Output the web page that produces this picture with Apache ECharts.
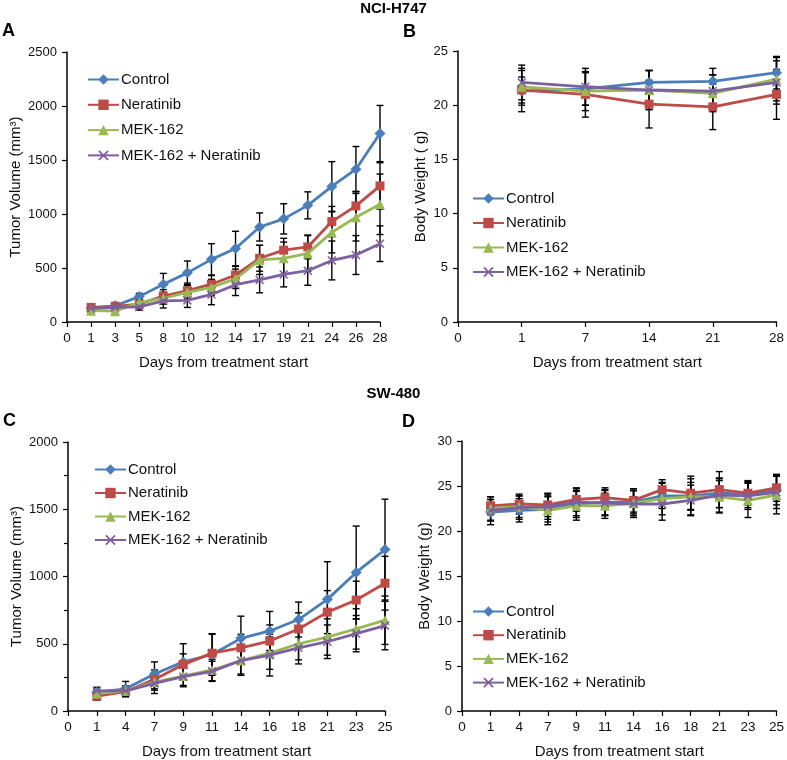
<!DOCTYPE html>
<html>
<head>
<meta charset="utf-8">
<script src="https://cdn.jsdelivr.net/npm/echarts@6/dist/echarts.min.js"></script>
<style>html,body{margin:0;padding:0;background:#fff}#c{width:787px;height:760px}</style>
</head>
<body>
<div id="c"></div>
<script>
// ---- Data ----
const seriesNames = ['Control', 'Neratinib', 'MEK-162', 'MEK-162 + Neratinib'];

// Panel A: NCI-H747 tumor volume
const daysA = ['0', '1', '3', '5', '8', '10', '12', '14', '17', '19', '21', '24', '26', '28'];
const ctrlA = [130, 150, 235, 350, 455, 580, 680, 880, 955, 1080, 1255, 1415, 1745];
const ctrlAErr = [25, 30, 30, 100, 110, 145, 160, 130, 140, 125, 230, 210, 260];
const nerA = [135, 145, 165, 240, 290, 350, 435, 590, 665, 695, 930, 1075, 1260];
const nerAErr = [20, 25, 40, 60, 70, 80, 80, 120, 110, 110, 140, 135, 215];
const mekA = [105, 100, 180, 220, 275, 320, 400, 575, 590, 635, 830, 970, 1090];
const mekAErr = [15, 20, 35, 55, 65, 75, 90, 135, 150, 165, 190, 220, 280];
const comboA = [125, 135, 140, 195, 200, 255, 345, 390, 440, 475, 570, 620, 725];
const comboAErr = [20, 25, 30, 65, 65, 95, 100, 120, 115, 135, 180, 180, 165];

// Panel B: NCI-H747 body weight
const daysB = ['0', '1', '7', '14', '21', '28'];
const ctrlB = [21.3, 21.5, 22.1, 22.2, 23.0];
const ctrlBErr = [1.3, 1.5, 1.1, 1.2, 1.5];
const nerB = [21.4, 21.0, 20.1, 19.85, 21.0];
const nerBErr = [2.0, 2.1, 2.2, 2.1, 2.3];
const mekB = [21.7, 21.3, 21.4, 21.1, 22.4];
const mekBErr = [1.5, 1.8, 1.8, 1.7, 2.0];
const comboB = [22.1, 21.7, 21.4, 21.3, 22.1];
const comboBErr = [1.6, 1.7, 1.8, 1.5, 2.0];

// Panel C: SW-480 tumor volume
const daysC = ['0', '1', '4', '7', '9', '11', '14', '16', '18', '21', '23', '25'];
const ctrlC = [140, 165, 275, 365, 420, 540, 595, 680, 830, 1030, 1200];
const ctrlCErr = [35, 55, 90, 135, 155, 165, 145, 130, 280, 345, 375];
const nerC = [110, 145, 235, 345, 430, 470, 520, 610, 735, 825, 950];
const nerCErr = [30, 40, 70, 80, 140, 100, 120, 120, 160, 140, 200];
const mekC = [130, 150, 215, 260, 305, 375, 430, 500, 550, 610, 675];
const mekCErr = [30, 35, 60, 70, 80, 100, 120, 120, 135, 150, 180];
const comboC = [150, 150, 205, 255, 295, 375, 415, 470, 515, 575, 635];
const comboCErr = [25, 30, 75, 75, 75, 110, 155, 120, 125, 135, 180];

// Panel D: SW-480 body weight
const daysD = ['0', '1', '4', '7', '9', '11', '14', '16', '18', '21', '23', '25'];
const ctrlD = [22.1, 22.3, 22.4, 23.0, 23.2, 23.2, 23.9, 23.9, 24.2, 24.1, 24.5];
const ctrlDErr = [1.4, 1.3, 1.4, 1.5, 1.4, 1.3, 1.4, 1.5, 1.6, 1.5, 1.6];
const nerD = [22.8, 23.0, 22.9, 23.5, 23.7, 23.4, 24.6, 24.2, 24.6, 24.2, 24.8];
const nerDErr = [1.0, 1.1, 1.3, 1.3, 1.1, 1.3, 1.1, 1.9, 2.0, 1.3, 1.5];
const mekD = [22.5, 22.7, 22.3, 22.8, 22.8, 23.1, 23.6, 23.8, 23.8, 23.4, 24.0];
const mekDErr = [1.3, 1.2, 1.6, 1.6, 1.4, 1.4, 1.8, 2.0, 1.8, 1.9, 2.1];
const comboD = [22.3, 22.6, 22.7, 23.2, 23.1, 23.0, 23.0, 23.4, 24.0, 23.9, 24.3];
const comboDErr = [1.2, 1.3, 1.4, 1.5, 1.4, 1.5, 1.8, 1.7, 1.9, 1.5, 1.8];

// ---- Styles ----
const FONT = 'Liberation Sans, Arial, sans-serif';
const colors = ['#4A7EBB', '#BE4B48', '#98B954', '#7D60A0'];
const xPath = 'path://M0,1.2L1.2,0L5,3.8L8.8,0L10,1.2L6.2,5L10,8.8L8.8,10L5,6.2L1.2,10L0,8.8L3.8,5Z';
const symbols = ['diamond', 'rect', 'triangle', xPath];
const symSizes = [11, 9, 10, 9];

const panels = [
  { days: daysA, vals: [ctrlA, nerA, mekA, comboA], errs: [ctrlAErr, nerAErr, mekAErr, comboAErr],
    grid: { left: 67, top: 52, width: 313, height: 270 }, yMax: 2500, yInt: 500, minor: false,
    yName: 'Tumor Volume (mm³)', legend: { left: 82, top: 67, gap: 10.3 } },
  { days: daysB, vals: [ctrlB, nerB, mekB, comboB], errs: [ctrlBErr, nerBErr, mekBErr, comboBErr],
    grid: { left: 458, top: 51, width: 320, height: 271 }, yMax: 25, yInt: 5, minor: false,
    yName: 'Body Weight ( g)', legend: { left: 467, top: 186, gap: 9.5 } },
  { days: daysC, vals: [ctrlC, nerC, mekC, comboC], errs: [ctrlCErr, nerCErr, mekCErr, comboCErr],
    grid: { left: 68, top: 442, width: 317, height: 269 }, yMax: 2000, yInt: 500, minor: true,
    yName: 'Tumor Volume (mm³)', legend: { left: 89, top: 457, gap: 8.5 } },
  { days: daysD, vals: [ctrlD, nerD, mekD, comboD], errs: [ctrlDErr, nerDErr, mekDErr, comboDErr],
    grid: { left: 462, top: 441, width: 317, height: 270 }, yMax: 30, yInt: 5, minor: false,
    yName: 'Body Weight (g)', legend: { left: 467, top: 599, gap: 8.7 } }
];

const grids = [], xAxes = [], yAxes = [], series = [], legends = [];
panels.forEach((p, pi) => {
  grids.push(p.grid);
  xAxes.push({
    type: 'category', gridIndex: pi, data: p.days, boundaryGap: false,
    name: 'Days from treatment start', nameLocation: 'middle', nameGap: 33,
    nameTextStyle: { fontFamily: FONT, fontSize: 15, color: '#111' },
    axisLine: { lineStyle: { color: '#000', width: 1.5 } },
    axisTick: { show: true, length: 5, lineStyle: { color: '#000', width: 1.2 } },
    axisLabel: { fontFamily: FONT, fontSize: 13.5, color: '#111', margin: 9, interval: 0 },
    splitLine: { show: false }
  });
  yAxes.push({
    type: 'value', gridIndex: pi, min: 0, max: p.yMax, interval: p.yInt,
    name: p.yName, nameLocation: 'middle', nameGap: pi % 2 === 0 ? 44 : 30, nameRotate: 90,
    nameTextStyle: { fontFamily: FONT, fontSize: 15, color: '#111' },
    axisLine: { show: true, lineStyle: { color: '#000', width: 1.5 } },
    axisTick: { show: true, length: 5, lineStyle: { color: '#000', width: 1.2 } },
    minorTick: { show: p.minor, splitNumber: 2, length: 4, lineStyle: { color: '#000', width: 1.2 } },
    axisLabel: { fontFamily: FONT, fontSize: 13, color: '#111', margin: 10, formatter: v => String(v) },
    splitLine: { show: false }
  });
  // error bars
  p.vals.forEach((vals, si) => {
    series.push({
      type: 'custom', xAxisIndex: pi, yAxisIndex: pi, z: 1, silent: true,
      data: vals.map((v, i) => [i + 1, v, p.errs[si][i]]),
      encode: { x: 0, y: 1 },
      renderItem: (params, api) => {
        const x = api.value(0), y = api.value(1), e = api.value(2);
        const top = api.coord([x, y + e]);
        const bot = api.coord([x, y - e]);
        const hw = 3.5;
        const st = { stroke: '#000', lineWidth: 1.4 };
        return { type: 'group', children: [
          { type: 'line', shape: { x1: top[0], y1: top[1], x2: bot[0], y2: bot[1] }, style: st },
          { type: 'line', shape: { x1: top[0] - hw, y1: top[1], x2: top[0] + hw, y2: top[1] }, style: st },
          { type: 'line', shape: { x1: bot[0] - hw, y1: bot[1], x2: bot[0] + hw, y2: bot[1] }, style: st }
        ]};
      }
    });
  });
  // lines
  p.vals.forEach((vals, si) => {
    series.push({
      type: 'line', name: seriesNames[si], xAxisIndex: pi, yAxisIndex: pi, z: 3 + si,
      data: vals.map((v, i) => [i + 1, v]),
      symbol: symbols[si], symbolSize: symSizes[si], showSymbol: true,
      lineStyle: { color: colors[si], width: 2.8 },
      itemStyle: { color: colors[si], borderWidth: 0 },
      animation: false
    });
  });
  legends.push({
    left: p.legend.left, top: p.legend.top, orient: 'vertical', data: seriesNames.slice(),
    itemWidth: 31, itemHeight: 13, itemGap: p.legend.gap, selectedMode: false,
    textStyle: { fontFamily: FONT, fontSize: 15, color: '#111', padding: [0, 0, 0, -3] }
  });
});

const T = (text, left, top, size) => ({
  text, left, top, padding: 0,
  textStyle: { fontFamily: FONT, fontSize: size, fontWeight: 'bold', color: '#000' }
});

const chart = echarts.init(document.getElementById('c'), null, { renderer: 'canvas' });
chart.setOption({
  backgroundColor: '#fff',
  animation: false,
  title: [
    T('NCI-H747', 'center', 1, 15),
    T('A', 2, 22, 18),
    T('B', 403, 23, 18),
    T('SW-480', 'center', 386, 15),
    T('C', 3, 412, 18),
    T('D', 402, 413, 18)
  ],
  grid: grids,
  xAxis: xAxes,
  yAxis: yAxes,
  legend: legends,
  series: series
});
</script>
</body>
</html>
